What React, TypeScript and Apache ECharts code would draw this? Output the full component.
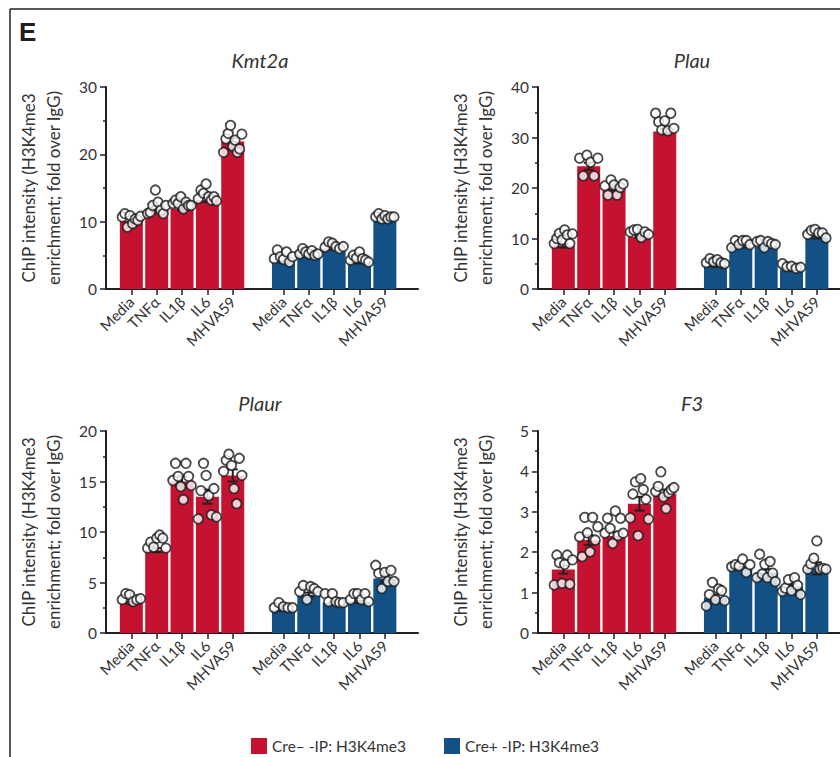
import React, { useEffect, useRef } from "react";
import * as echarts from "echarts";

const CATEGORIES = ["Media", "TNFα", "IL1β", "IL6", "MHVA59"];
const RED_NAME = "Cre– -IP: H3K4me3";
const BLUE_NAME = "Cre+ -IP: H3K4me3";
const RED_POS = [1, 2, 3, 4, 5];
const BLUE_POS = [7, 8, 9, 10, 11];

// ---- Kmt2a ----
const KMT2A_RED_MEAN = [10.1, 11.9, 11.9, 13.2, 21.9];
const KMT2A_RED_SEM = [0.3, 0.4, 0.2, 0.3, 0.5];
const KMT2A_BLUE_MEAN = [4.1, 5.0, 6.0, 4.0, 10.5];
const KMT2A_BLUE_SEM = [0.2, 0.15, 0.15, 0.2, 0.1];
const KMT2A_RED_DOTS = [
  [10.7, 11.2, 9.2, 10.9, 9.7, 10.4, 10.2, 10.8],
  [11.2, 11.4, 12.4, 14.7, 12.9, 11.7, 11.2, 12.4],
  [12.7, 13.2, 12.7, 13.7, 11.9, 12.9, 12.4, 12.4],
  [13.4, 14.7, 14.2, 15.6, 13.7, 13.2, 13.7, 13.1],
  [20.3, 22.3, 23.1, 24.3, 21.2, 22.1, 20.3, 20.8, 23.0],
];
const KMT2A_BLUE_DOTS = [
  [4.5, 5.8, 4.8, 4.4, 5.5, 4.0, 4.8],
  [5.2, 6.0, 5.5, 5.2, 5.7, 5.0, 5.2],
  [6.2, 7.0, 6.8, 6.3, 6.0, 6.3],
  [4.3, 5.0, 4.6, 5.5, 4.5, 4.3, 4.0],
  [10.7, 11.2, 10.4, 10.9, 10.4, 10.7, 10.7],
];

// ---- Plau ----
const PLAU_RED_MEAN = [8.6, 24.3, 19.9, 10.3, 31.2];
const PLAU_RED_SEM = [0.4, 0.7, 0.4, 0.2, 0.5];
const PLAU_BLUE_MEAN = [4.6, 8.4, 8.4, 3.9, 10.2];
const PLAU_BLUE_SEM = [0.2, 0.2, 0.2, 0.1, 0.2];
const PLAU_RED_DOTS = [
  [9.0, 10.0, 11.0, 9.7, 11.7, 10.7, 9.0, 10.9],
  [25.9, 22.4, 26.5, 25.1, 22.4, 25.9],
  [20.4, 18.6, 21.6, 20.6, 18.6, 20.1, 20.8],
  [11.3, 11.7, 11.8, 10.2, 11.3, 10.8],
  [34.8, 33.1, 31.5, 33.3, 31.3, 34.8, 31.8],
];
const PLAU_BLUE_DOTS = [
  [5.2, 6.0, 5.4, 5.8, 5.2, 5.0],
  [8.2, 9.6, 8.8, 9.6, 9.6, 8.8],
  [9.4, 9.6, 8.2, 9.4, 9.0, 8.8],
  [5.0, 4.4, 4.5, 4.1, 4.3],
  [10.8, 11.6, 11.8, 11.1, 11.1, 10.1],
];

// ---- Plaur ----
const PLAUR_RED_MEAN = [3.0, 8.2, 15.0, 13.5, 15.6];
const PLAUR_RED_SEM = [0.1, 0.2, 0.5, 0.7, 0.6];
const PLAUR_BLUE_MEAN = [2.3, 3.8, 3.0, 3.1, 5.4];
const PLAUR_BLUE_SEM = [0.1, 0.2, 0.1, 0.1, 0.3];
const PLAUR_RED_DOTS = [
  [3.3, 3.9, 3.8, 3.1, 3.3, 3.4],
  [8.4, 9.0, 8.5, 9.4, 9.7, 9.4, 8.4],
  [15.1, 16.8, 15.5, 14.5, 13.2, 16.8, 15.5, 14.6],
  [11.3, 14.1, 16.8, 15.6, 13.6, 11.7, 14.3, 11.5],
  [16.0, 17.1, 17.7, 16.6, 14.3, 12.8, 17.3, 15.6],
];
const PLAUR_BLUE_DOTS = [
  [2.5, 3.0, 2.6, 2.5, 2.5],
  [4.1, 4.7, 3.3, 4.6, 4.4, 4.1],
  [3.9, 3.1, 3.9, 3.1, 3.0, 3.0],
  [3.3, 3.9, 3.9, 3.3, 3.9, 3.1],
  [6.7, 5.9, 4.4, 6.0, 5.1, 6.2, 5.1],
];

// ---- F3 ----
const F3_RED_MEAN = [1.57, 2.3, 2.4, 3.2, 3.45];
const F3_RED_SEM = [0.1, 0.12, 0.1, 0.17, 0.1];
const F3_BLUE_MEAN = [0.88, 1.6, 1.5, 1.15, 1.6];
const F3_BLUE_SEM = [0.07, 0.04, 0.08, 0.06, 0.15];
const F3_RED_DOTS = [
  [1.19, 1.93, 1.74, 1.23, 1.7, 1.93, 1.21, 1.81],
  [2.38, 1.89, 2.86, 2.48, 2.01, 2.86, 2.3, 2.63],
  [2.47, 2.84, 2.59, 2.22, 3.02, 2.41, 2.84, 2.47],
  [2.85, 3.44, 3.74, 2.41, 3.82, 3.55, 3.31, 2.82],
  [3.5, 3.63, 3.99, 3.37, 3.08, 3.47, 3.55, 3.6],
];
const F3_BLUE_DOTS = [
  [0.67, 0.95, 1.25, 0.82, 1.09, 1.05, 0.8],
  [1.64, 1.69, 1.66, 1.83, 1.5, 1.69],
  [1.37, 1.95, 1.46, 1.7, 1.37, 1.77, 1.48, 1.27],
  [1.03, 1.11, 1.32, 1.05, 1.37, 1.18, 0.95],
  [1.58, 1.71, 1.85, 2.28, 1.58, 1.6, 1.58],
];

const Y_MAX = [30, 40, 20, 5];
const Y_INTERVAL = [10, 10, 5, 1];
const TITLES = ["Kmt2a", "Plau", "Plaur", "F3"];

const RED = "#c41230";
const BLUE = "#125086";
const INK = "#231f20";
const TEXT = "#333333";
const FONT = "Lato, 'Noto Sans', sans-serif";
const BAND = 25.35;

const PANELS = [
  { redMean: KMT2A_RED_MEAN, redSem: KMT2A_RED_SEM, blueMean: KMT2A_BLUE_MEAN, blueSem: KMT2A_BLUE_SEM, redDots: KMT2A_RED_DOTS, blueDots: KMT2A_BLUE_DOTS },
  { redMean: PLAU_RED_MEAN, redSem: PLAU_RED_SEM, blueMean: PLAU_BLUE_MEAN, blueSem: PLAU_BLUE_SEM, redDots: PLAU_RED_DOTS, blueDots: PLAU_BLUE_DOTS },
  { redMean: PLAUR_RED_MEAN, redSem: PLAUR_RED_SEM, blueMean: PLAUR_BLUE_MEAN, blueSem: PLAUR_BLUE_SEM, redDots: PLAUR_RED_DOTS, blueDots: PLAUR_BLUE_DOTS },
  { redMean: F3_RED_MEAN, redSem: F3_RED_SEM, blueMean: F3_BLUE_MEAN, blueSem: F3_BLUE_SEM, redDots: F3_RED_DOTS, blueDots: F3_BLUE_DOTS },
];

// layout (pixels)
const GRIDS = [
  { left: 106, top: 87, width: 312, height: 202, titleX: 260, titleY: 60 },
  { left: 538, top: 87, width: 302, height: 202, titleX: 692, titleY: 60 },
  { left: 106, top: 431, width: 312, height: 202, titleX: 260, titleY: 403 },
  { left: 538, top: 431, width: 302, height: 202, titleX: 692, titleY: 403 },
];

function jitter(j: number, n: number) {
  if (n <= 1) return 0;
  return -0.36 + (0.72 * j) / (n - 1);
}

function buildOption() {
  const grid: any[] = [];
  const xAxis: any[] = [];
  const yAxis: any[] = [];
  const series: any[] = [];
  const graphic: any[] = [];
  const tickPos = [...RED_POS, ...BLUE_POS];

  PANELS.forEach((p, gi) => {
    const g = GRIDS[gi];
    grid.push({ left: g.left, top: g.top, width: g.width, height: g.height, containLabel: false });
    xAxis.push({
      type: "value",
      gridIndex: gi,
      min: 0,
      max: g.width / BAND,
      splitLine: { show: false },
      axisLine: { show: true, onZero: false, lineStyle: { color: INK, width: 2 } },
      axisTick: { show: true, length: 6, customValues: tickPos, lineStyle: { color: INK, width: 1.5 } },
      axisLabel: {
        show: true,
        customValues: tickPos,
        rotate: 45,
        margin: 10,
        fontSize: 15,
        color: TEXT,
        fontFamily: FONT,
        formatter: (v: number) => {
          const r = Math.round(v);
          if (r >= 1 && r <= 5) return CATEGORIES[r - 1];
          if (r >= 7 && r <= 11) return CATEGORIES[r - 7];
          return "";
        },
      },
    });
    yAxis.push({
      type: "value",
      gridIndex: gi,
      min: 0,
      max: Y_MAX[gi],
      interval: Y_INTERVAL[gi],
      splitLine: { show: false },
      axisLine: { show: true, lineStyle: { color: INK, width: 2 } },
      axisTick: { show: true, length: 6, lineStyle: { color: INK, width: 1.5 } },
      minorTick: { show: true, splitNumber: 2, length: 3, lineStyle: { color: INK, width: 1.5 } },
      axisLabel: { fontSize: 15.5, color: TEXT, fontFamily: FONT, margin: 9 },
      name: "ChIP intensity (H3K4me3\nenrichment; fold over IgG)",
      nameLocation: "middle",
      nameGap: 40,
      nameTextStyle: { fontSize: 17, lineHeight: 25, color: TEXT, fontFamily: FONT },
    });

    series.push({
      type: "bar",
      name: RED_NAME,
      xAxisIndex: gi,
      yAxisIndex: gi,
      barWidth: 23,
      barGap: "-100%",
      itemStyle: { color: RED },
      data: p.redMean.map((v, i) => [RED_POS[i], v]),
      z: 2,
    });
    series.push({
      type: "bar",
      name: BLUE_NAME,
      xAxisIndex: gi,
      yAxisIndex: gi,
      barWidth: 23,
      barGap: "-100%",
      itemStyle: { color: BLUE },
      data: p.blueMean.map((v, i) => [BLUE_POS[i], v]),
      z: 2,
    });
    const errData: number[][] = [];
    p.redMean.forEach((m, i) => errData.push([RED_POS[i], m, p.redSem[i]]));
    p.blueMean.forEach((m, i) => errData.push([BLUE_POS[i], m, p.blueSem[i]]));
    series.push({
      type: "custom",
      xAxisIndex: gi,
      yAxisIndex: gi,
      encode: { x: 0, y: 1 },
      z: 3,
      silent: true,
      data: errData,
      renderItem: (params: any, api: any) => {
        const x = api.value(0);
        const m = api.value(1);
        const s = api.value(2);
        const top = api.coord([x, m + s]);
        const bot = api.coord([x, m - s]);
        const hw = 5;
        const st = { stroke: INK, lineWidth: 2 };
        return {
          type: "group",
          children: [
            { type: "line", shape: { x1: top[0], y1: top[1], x2: bot[0], y2: bot[1] }, style: st },
            { type: "line", shape: { x1: top[0] - hw, y1: top[1], x2: top[0] + hw, y2: top[1] }, style: st },
            { type: "line", shape: { x1: bot[0] - hw, y1: bot[1], x2: bot[0] + hw, y2: bot[1] }, style: st },
          ],
        };
      },
    });
    const dots: number[][] = [];
    p.redDots.forEach((arr, i) => arr.forEach((v, j) => dots.push([RED_POS[i] + jitter(j, arr.length), v])));
    p.blueDots.forEach((arr, i) => arr.forEach((v, j) => dots.push([BLUE_POS[i] + jitter(j, arr.length), v])));
    series.push({
      type: "scatter",
      xAxisIndex: gi,
      yAxisIndex: gi,
      symbol: "circle",
      symbolSize: 9.5,
      z: 4,
      itemStyle: { color: "#ffffff", borderColor: "#1a1a1a", borderWidth: 1.8 },
      data: dots,
    });

    graphic.push({
      type: "text",
      x: g.titleX,
      y: g.titleY,
      style: {
        text: TITLES[gi],
        fontSize: 20,
        fontStyle: "italic",
        fontFamily: FONT,
        fill: TEXT,
        align: "center",
        verticalAlign: "middle",
      },
    });
  });

  graphic.push(
    { type: "line", shape: { x1: 10, y1: 9, x2: 840, y2: 9 }, style: { stroke: INK, lineWidth: 1.5 } },
    { type: "line", shape: { x1: 10, y1: 9, x2: 10, y2: 757 }, style: { stroke: INK, lineWidth: 1.5 } },
    {
      type: "text",
      x: 19,
      y: 32,
      style: {
        text: "E",
        fontSize: 26,
        fontWeight: "bold",
        fontFamily: "'Liberation Sans', Arial, sans-serif",
        fill: INK,
        align: "left",
        verticalAlign: "middle",
      },
    }
  );

  return {
    animation: false,
    backgroundColor: "#ffffff",
    grid,
    xAxis,
    yAxis,
    series,
    graphic,
    legend: {
      left: 251,
      top: 738,
      padding: 0,
      itemWidth: 16,
      itemHeight: 16,
      itemGap: 38,
      icon: "rect",
      data: [RED_NAME, BLUE_NAME],
      textStyle: { fontSize: 15.5, color: TEXT, fontFamily: FONT },
    },
  };
}

export default function App() {
  const ref = useRef<HTMLDivElement>(null);
  useEffect(() => {
    document.body.style.margin = "0";
    if (!ref.current) return;
    const chart = echarts.init(ref.current, undefined, { renderer: "svg" });
    chart.setOption(buildOption() as any);
    return () => chart.dispose();
  }, []);
  return <div ref={ref} style={{ width: 840, height: 757 }} />;
}
